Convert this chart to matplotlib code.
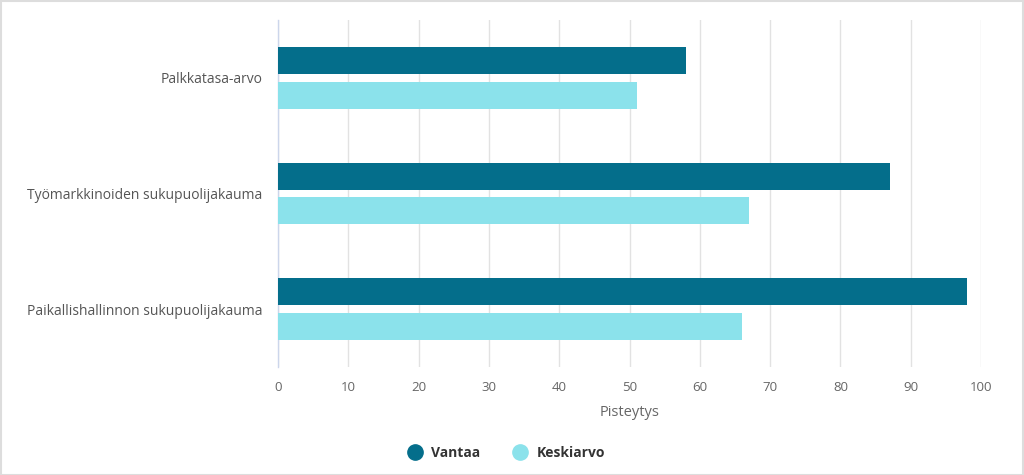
import matplotlib
matplotlib.use("Agg")
import matplotlib.pyplot as plt
import numpy as np
from matplotlib.lines import Line2D
from matplotlib.patches import Rectangle

categories = ["Palkkatasa-arvo", "Työmarkkinoiden sukupuolijakauma", "Paikallishallinnon sukupuolijakauma"]
vantaa = [58, 87, 98]
keskiarvo = [51, 67, 66]
series_names = ["Vantaa", "Keskiarvo"]
x_ticks = [0, 10, 20, 30, 40, 50, 60, 70, 80, 90, 100]
x_title = "Pisteytys"

col_v = "#046e8b"
col_k = "#8be2eb"

plt.rcParams['font.family'] = ['Open Sans', 'DejaVu Sans']

fig = plt.figure(figsize=(10.24, 4.75), dpi=100)
ax = fig.add_axes([278/1024, 1-367/475, (981-278)/1024, (367-20)/475])

y = np.arange(len(categories))
h = 0.233
ax.barh(y - 0.15, vantaa, height=h, color=col_v, zorder=3)
ax.barh(y + 0.15, keskiarvo, height=h, color=col_k, zorder=3)

ax.set_xlim(0, 100)
ax.set_ylim(len(categories) - 0.5, -0.5)
ax.set_xticks(x_ticks)
ax.set_xticklabels([str(t) for t in x_ticks], color="#666666", fontsize=9.5)
ax.set_yticks(y)
ax.set_yticklabels(categories, color="#555555", fontsize=10)
ax.tick_params(axis='x', length=0, pad=10)
ax.tick_params(axis='y', length=0, pad=11)
ax.grid(axis='x', color="#e2e2e2", linewidth=1, zorder=0)
for s in ["top", "right", "bottom"]:
    ax.spines[s].set_visible(False)
ax.spines["left"].set_color("#ccd6eb")
ax.spines["left"].set_linewidth(1)
ax.set_xlabel(x_title, color="#666666", fontsize=10.5, labelpad=8)

handles = [Line2D([], [], marker='o', linestyle='none', markersize=11, color=col_v),
           Line2D([], [], marker='o', linestyle='none', markersize=11, color=col_k)]
leg = fig.legend(handles, series_names, loc='center', bbox_to_anchor=(505/1024, 1-453/475),
                 ncol=2, frameon=False, handletextpad=0.45, columnspacing=2.2,
                 handlelength=1.4,
                 prop={'weight': 'bold', 'size': 10})
for t in leg.get_texts():
    t.set_color("#333333")

fig.patches.append(Rectangle((0.001, 0.001), 0.998, 0.997, transform=fig.transFigure,
                             fill=False, edgecolor="#dddddd", linewidth=1.5))

fig.savefig("out.png", dpi=100, facecolor="white")
